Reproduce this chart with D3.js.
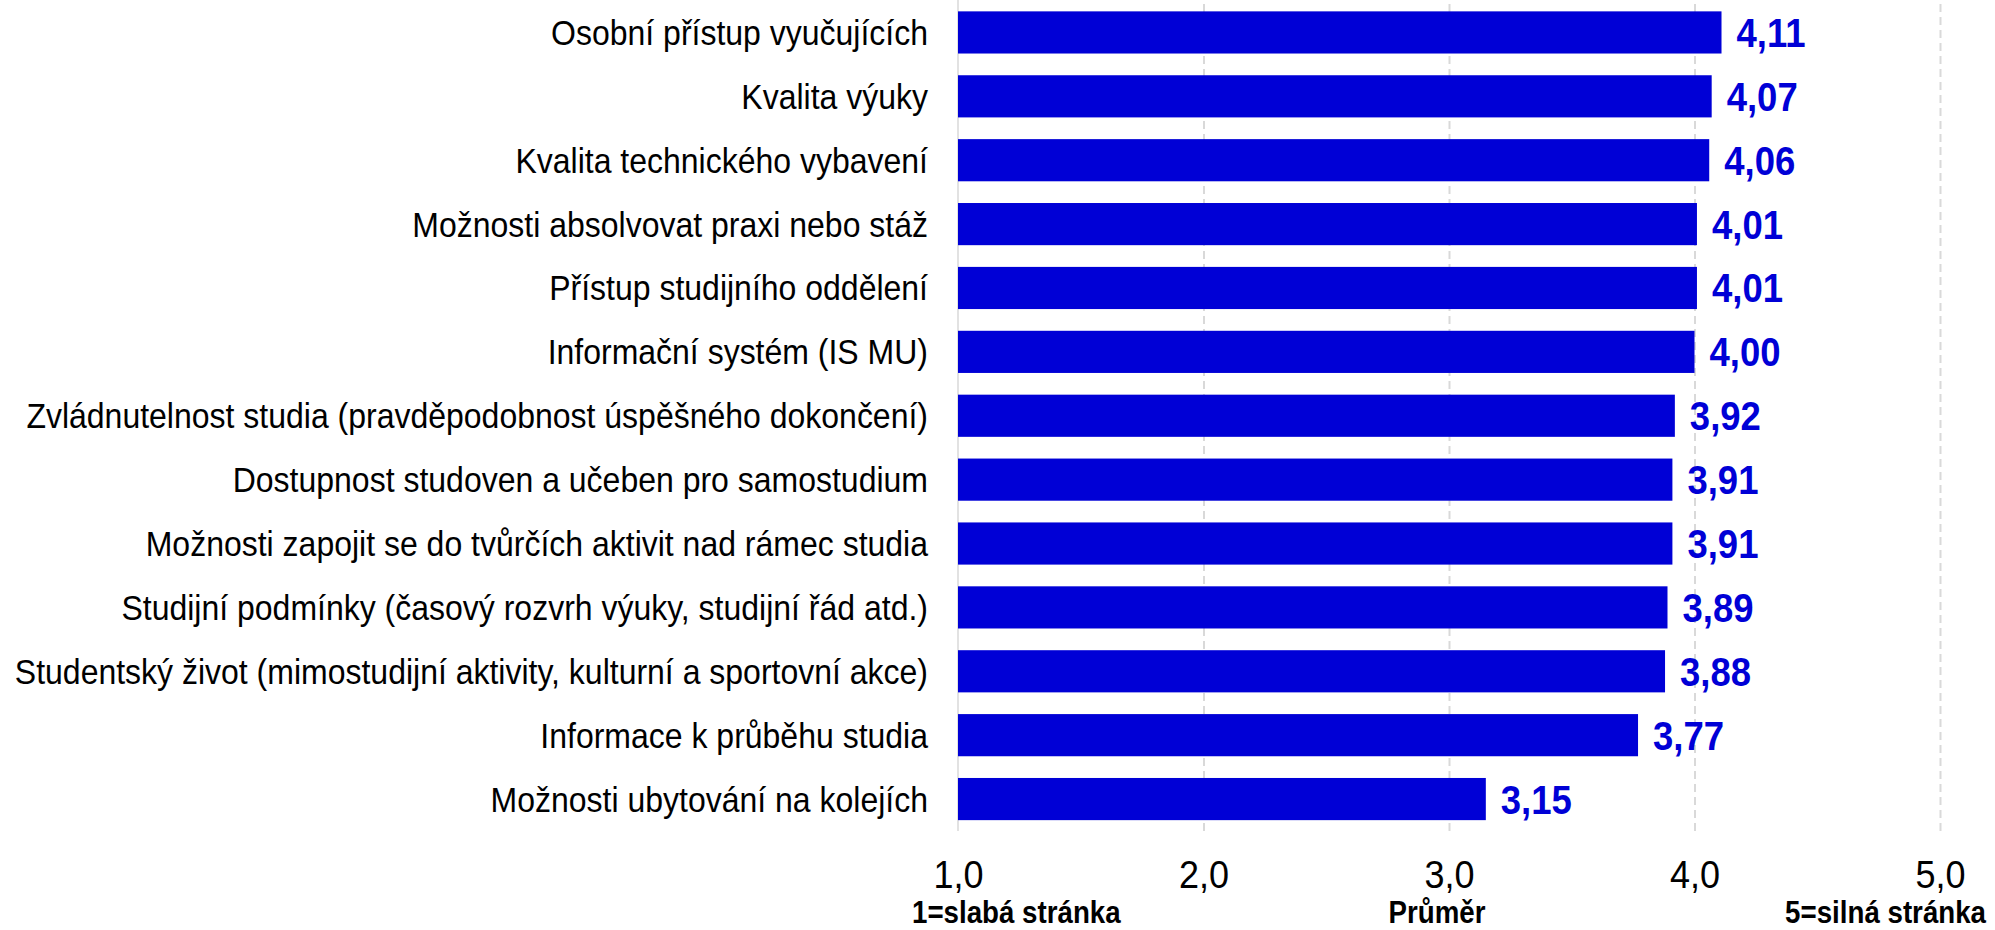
<!DOCTYPE html>
<html>
<head>
<meta charset="utf-8">
<script src="https://cdn.jsdelivr.net/npm/d3@7"></script>
<style>
  html, body { margin: 0; padding: 0; background: #fff; }
  svg { display: block; font-family: "Liberation Sans", Arial, sans-serif; }
</style>
</head>
<body>
<svg id="chart" width="1995" height="930"></svg>
<script>
const categories = [
  "Osobní přístup vyučujících",
  "Kvalita výuky",
  "Kvalita technického vybavení",
  "Možnosti absolvovat praxi nebo stáž",
  "Přístup studijního oddělení",
  "Informační systém (IS MU)",
  "Zvládnutelnost studia (pravděpodobnost úspěšného dokončení)",
  "Dostupnost studoven a učeben pro samostudium",
  "Možnosti zapojit se do tvůrčích aktivit nad rámec studia",
  "Studijní podmínky (časový rozvrh výuky, studijní řád atd.)",
  "Studentský život (mimostudijní aktivity, kulturní a sportovní akce)",
  "Informace k průběhu studia",
  "Možnosti ubytování na kolejích"
];
const values = [4.11, 4.07, 4.06, 4.01, 4.01, 4.00, 3.92, 3.91, 3.91, 3.89, 3.88, 3.77, 3.15];
const tickValues = [1, 2, 3, 4, 5];
const bottomLabels = ["1=slabá stránka", "Průměr", "5=silná stránka"];

const svg = d3.select("#chart");
const blue = "#0000d6";
const stretch = 1.1;
const fontFam = "'Liberation Sans', Arial, sans-serif";
const fmt = v => d3.format(".2f")(v).replace(".", ",");
const fmtTick = v => d3.format(".1f")(v).replace(".", ",");

const x = d3.scaleLinear().domain([1, 5]).range([958, 1940]);
const y = d3.scaleBand().domain(categories).range([0.5, 831]).paddingInner(0.34).paddingOuter(0.17);
const plotBottom = 831;

// Gridlines (dashed) at 2..5
const grid = svg.append("g").attr("transform", `translate(0,${plotBottom})`)
  .call(d3.axisBottom(x).tickValues(tickValues.slice(1)).tickSize(-plotBottom).tickFormat(""));
grid.select(".domain").remove();
grid.selectAll("line").attr("stroke", "#d9d9d9").attr("stroke-width", 2).attr("stroke-dasharray", "8,5");

// Axis line at 1.0
svg.append("line")
  .attr("x1", x(1)).attr("x2", x(1)).attr("y1", 0).attr("y2", plotBottom)
  .attr("stroke", "#d9d9d9").attr("stroke-width", 1.5);

// Bars
svg.append("g").selectAll("rect").data(values).join("rect")
  .attr("x", x(1))
  .attr("y", (d, i) => y(categories[i]))
  .attr("width", d => x(d) - x(1))
  .attr("height", y.bandwidth())
  .attr("fill", blue);

// Value labels
svg.append("g").selectAll("text").data(values).join("text")
  .attr("transform", (d, i) => `translate(${x(d) + 15},${y(categories[i]) + y.bandwidth() / 2 + 14.5}) scale(1,${stretch})`)
  .attr("font-family", fontFam)
  .attr("font-size", 36.5).attr("font-weight", "bold").attr("fill", blue)
  .text(d => fmt(d));

// Category labels
svg.append("g").selectAll("text").data(categories).join("text")
  .attr("transform", d => `translate(928,${y(d) + y.bandwidth() / 2 + 12.5}) scale(1,${stretch})`)
  .attr("font-family", fontFam)
  .attr("text-anchor", "end").attr("font-size", 32).attr("fill", "#000")
  .text(d => d);

// X axis tick labels
const ax = svg.append("g").attr("transform", `translate(0,${plotBottom})`)
  .call(d3.axisBottom(x).tickValues(tickValues).tickSize(0).tickFormat(fmtTick));
ax.select(".domain").remove();
ax.selectAll("text")
  .attr("y", null).attr("dy", null)
  .attr("transform", `translate(0,57) scale(1,${stretch})`)
  .attr("font-size", 36).attr("font-family", fontFam)
  .attr("fill", "#000");

// Bottom descriptive labels
const bl = [
  { t: bottomLabels[0], x: 912, anchor: "start" },
  { t: bottomLabels[1], x: 1437, anchor: "middle" },
  { t: bottomLabels[2], x: 1986, anchor: "end" }
];
svg.append("g").selectAll("text").data(bl).join("text")
  .attr("transform", d => `translate(${d.x},923) scale(1,${stretch})`)
  .attr("text-anchor", d => d.anchor)
  .attr("font-family", fontFam)
  .attr("font-size", 27.7).attr("font-weight", "bold").attr("fill", "#000")
  .text(d => d.t);
</script>
</body>
</html>
